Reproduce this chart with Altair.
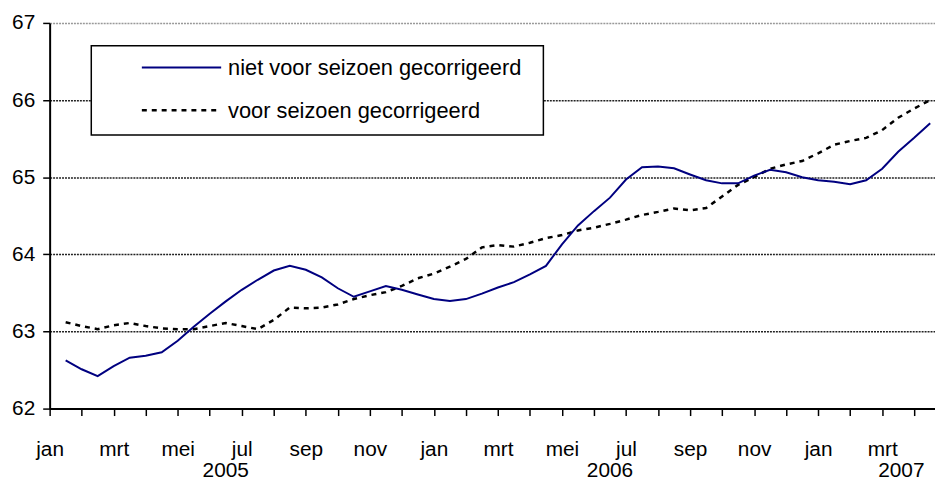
import altair as alt
import pandas as pd

# ---- data (values at every half month, Jan 2005 .. Apr 2007) ----
niet_voor = [62.625, 62.51, 62.42, 62.55, 62.66, 62.685, 62.73, 62.88, 63.06, 63.23,
             63.39, 63.54, 63.67, 63.79, 63.85, 63.80, 63.70, 63.56, 63.45, 63.52,
             63.59, 63.54, 63.48, 63.42, 63.395, 63.42, 63.49, 63.57, 63.64, 63.74,
             63.85, 64.13, 64.375, 64.56, 64.735, 64.97, 65.13, 65.14, 65.115, 65.035,
             64.96, 64.92, 64.92, 65.02, 65.095, 65.065, 65.00, 64.96, 64.94, 64.91,
             64.96, 65.11, 65.33, 65.51, 65.70]
voor = [63.12, 63.07, 63.03, 63.08, 63.11, 63.07, 63.04, 63.03, 63.03, 63.07,
        63.11, 63.07, 63.03, 63.15, 63.31, 63.30, 63.31, 63.35, 63.42, 63.47,
        63.51, 63.59, 63.69, 63.75, 63.84, 63.94, 64.09, 64.12, 64.10, 64.15,
        64.21, 64.25, 64.31, 64.345, 64.395, 64.45, 64.51, 64.55, 64.595, 64.57,
        64.60, 64.75, 64.90, 65.00, 65.11, 65.165, 65.21, 65.31, 65.42, 65.47,
        65.51, 65.61, 65.77, 65.89, 66.00]
month_pos = [(i + 1) / 2 for i in range(len(voor))]  # months since 1 Jan 2005

month_labels = ["jan", "", "mrt", "", "mei", "", "jul", "", "sep", "", "nov", "",
                "jan", "", "mrt", "", "mei", "", "jul", "", "sep", "", "nov", "",
                "jan", "", "mrt", ""]
years = ["2005", "2006", "2007"]
year_mid = [5.5, 17.5, 26.6]
y_ticks = [62, 63, 64, 65, 66, 67]
legend_labels = ["niet voor seizoen gecorrigeerd", "voor seizoen gecorrigeerd"]

FONT = "Liberation Sans, Arial, sans-serif"
W, H = 893, 389

df_niet = pd.DataFrame({"m": month_pos, "v": niet_voor})
df_voor = pd.DataFrame({"m": month_pos, "v": voor})
df_years = pd.DataFrame({"m": year_mid, "year": years})
one = pd.DataFrame({"a": [0]})

label_expr = "[" + ",".join("'" + s + "'" for s in month_labels) + "][round(datum.value)]"

x_axis = alt.Axis(values=list(range(len(month_labels))), labelExpr=label_expr, title=None,
                  grid=False, tickSize=7, labelPadding=23, labelOverlap=False,
                  labelFlush=False, domainWidth=2)
y_axis = alt.Axis(values=y_ticks, title=None, grid=True, tickSize=7, labelPadding=8,
                  gridDash=[2, 1], gridWidth=1.5,
                  gridColor={"condition": {"test": "datum.value == 67", "value": "#999999"},
                             "value": "#222222"},
                  domainWidth=2)

x_enc = alt.X("m:Q", scale=alt.Scale(domain=[0, 27.65], nice=False, zero=False), axis=x_axis)
y_enc = alt.Y("v:Q", scale=alt.Scale(domain=[62, 67], nice=False, zero=False), axis=y_axis)

line_niet = alt.Chart(df_niet).mark_line(color="#000080", strokeWidth=2).encode(x=x_enc, y=y_enc)
line_voor = alt.Chart(df_voor).mark_line(color="black", strokeWidth=2.5,
                                          strokeDash=[5, 5]).encode(x=x_enc, y=y_enc)

year_text = alt.Chart(df_years).mark_text(font=FONT, fontSize=21, baseline="alphabetic",
                                          color="black").encode(
    x=x_enc, y=alt.value(458), text="year:N")

legend_box = alt.Chart(one).mark_rect(fill="white", stroke="black", strokeWidth=1.5).encode(
    x=alt.value(42), x2=alt.value(498), y=alt.value(23), y2=alt.value(113))
leg_line1 = alt.Chart(one).mark_rule(color="#000080", strokeWidth=2).encode(
    x=alt.value(93), x2=alt.value(173), y=alt.value(45))
leg_line2 = alt.Chart(one).mark_rule(color="black", strokeWidth=2.5, strokeDash=[5, 5]).encode(
    x=alt.value(93), x2=alt.value(173), y=alt.value(88))
leg_text1 = alt.Chart(one).mark_text(font=FONT, fontSize=22, align="left", baseline="middle",
                                     color="black").encode(
    x=alt.value(180), y=alt.value(46), text=alt.value(legend_labels[0]))
leg_text2 = alt.Chart(one).mark_text(font=FONT, fontSize=22, align="left", baseline="middle",
                                     color="black").encode(
    x=alt.value(180), y=alt.value(89), text=alt.value(legend_labels[1]))

chart = alt.layer(line_voor, line_niet, year_text, legend_box, leg_line1, leg_line2,
                  leg_text1, leg_text2).properties(
    width=W, height=H,
    autosize=alt.AutoSizeParams(type="none"),
    padding={"left": 42, "top": 13, "right": 0, "bottom": 74},
    background="white",
).configure_view(stroke=None).configure_axis(
    labelFont=FONT, labelFontSize=21, labelColor="black",
    domainColor="black", tickColor="black", tickWidth=1.5,
)

chart.save("out.html", embed_options={"renderer": "svg", "actions": False})
